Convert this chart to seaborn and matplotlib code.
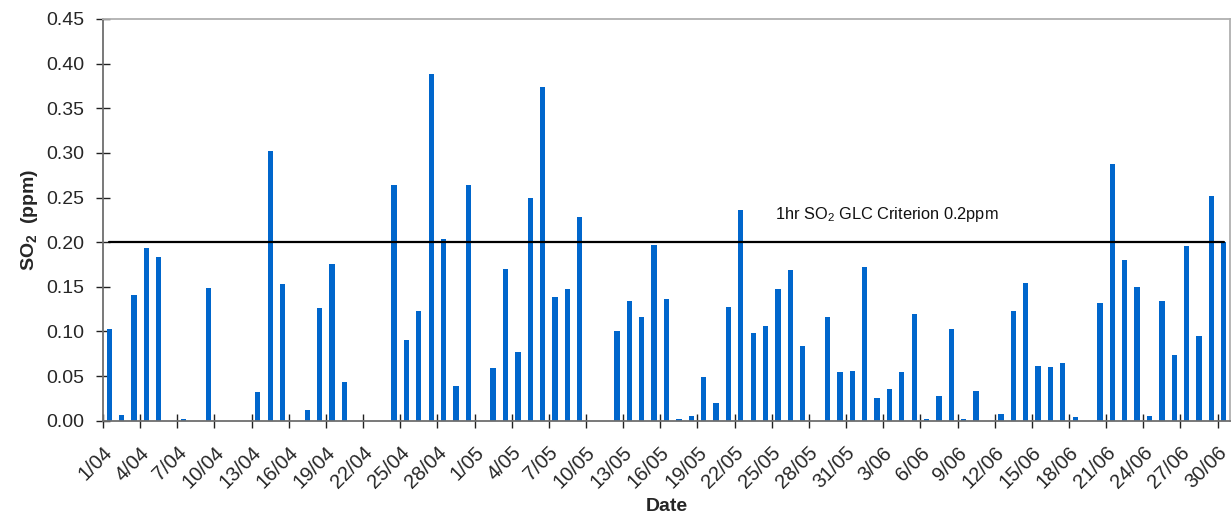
import numpy as np
import pandas as pd
import matplotlib
matplotlib.use("Agg")
import matplotlib.pyplot as plt
import seaborn as sns

# daily max 1hr SO2 (ppm); nan = no reading that day
april_so2 = [0.103, 0.006, 0.141, 0.194, 0.183, np.nan, 0.002, np.nan, 0.149, np.nan,
             np.nan, np.nan, 0.032, 0.302, 0.153, np.nan, 0.012, 0.126, 0.176, 0.043,
             np.nan, np.nan, np.nan, 0.264, 0.090, 0.123, 0.388, 0.203, 0.039, 0.264]
may_so2 = [np.nan, 0.059, 0.170, 0.077, 0.250, 0.374, 0.139, 0.147, 0.228, np.nan,
           np.nan, 0.100, 0.134, 0.116, 0.197, 0.136, 0.002, 0.005, 0.049, 0.020,
           0.127, 0.236, 0.098, 0.106, 0.147, 0.169, 0.084, np.nan, 0.116, 0.054, 0.056]
june_so2 = [0.172, 0.025, 0.036, 0.054, 0.120, 0.002, 0.028, 0.103, 0.002, 0.033,
            np.nan, 0.008, 0.123, 0.154, 0.061, 0.060, 0.065, 0.004, np.nan, 0.132,
            0.288, 0.180, 0.150, 0.005, 0.134, 0.074, 0.196, 0.095, 0.252, 0.200]
criterion = 0.2
criterion_label = r"1hr SO$_\mathrm{2}$ GLC Criterion 0.2ppm"

dates = pd.date_range("2000-04-01", "2000-06-30", freq="D")
days = [f"{d.day}/{d.month:02d}" for d in dates]
df = pd.DataFrame({"Date": days, "SO2": april_so2 + may_so2 + june_so2})
df["Criterion"] = criterion

sns.set_style("ticks")
plt.rcParams.update({
    "font.family": ["Liberation Sans", "DejaVu Sans"],
    "mathtext.fontset": "custom",
    "mathtext.rm": "Liberation Sans",
    "mathtext.bf": "Liberation Sans:bold",
    "mathtext.default": "regular",
})

fig = plt.figure(figsize=(12.31, 5.15), dpi=100)
ax = fig.add_axes([103 / 1231, 1 - 420.7 / 515, 1127 / 1231, 401.7 / 515])

sns.barplot(data=df, x="Date", y="SO2", order=days, color="#0066cc",
            saturation=1, width=0.43, linewidth=0, ax=ax)
sns.lineplot(data=df, x="Date", y="Criterion", color="black", linewidth=1.6, ax=ax)
ax.text(53.8, 0.2305, criterion_label, fontsize=11.8, va="center", ha="left", color="#111111")

ax.set_xlim(-0.5, len(days) - 0.5)
ax.set_ylim(0, 0.45)
ax.set_yticks(np.arange(0, 0.451, 0.05))
ax.yaxis.set_major_formatter(matplotlib.ticker.FormatStrFormatter("%.2f"))

# tick marks between categories, labels under every third day
ax.set_xticks(np.arange(-0.5, len(days) - 1, 3))
ax.set_xticklabels([])
ax.set_xticks(np.arange(0, len(days), 3), minor=True)
ax.set_xticklabels(days[::3], minor=True, rotation=45, ha="right", va="center",
                   rotation_mode="anchor")
ax.tick_params(axis="x", which="major", direction="inout", length=10, width=1, color="#222222")
ax.tick_params(axis="x", which="minor", length=0, pad=21, labelsize=14.5)
ax.tick_params(axis="y", direction="inout", length=9.5, width=1, color="#222222",
               labelsize=14, pad=9)

for side in ["left", "bottom"]:
    ax.spines[side].set_color("#6e6e6e")
    ax.spines[side].set_linewidth(1.3)
for side in ["top", "right"]:
    ax.spines[side].set_color("#b0b0b0")
    ax.spines[side].set_linewidth(1.3)

ax.set_xlabel("Date", fontsize=14, fontweight="bold", labelpad=4)
ax.set_ylabel(r"SO$_\mathbf{2}$  (ppm)", fontsize=14, fontweight="bold", labelpad=4)

fig.savefig("out.png", dpi=100, facecolor="white")
